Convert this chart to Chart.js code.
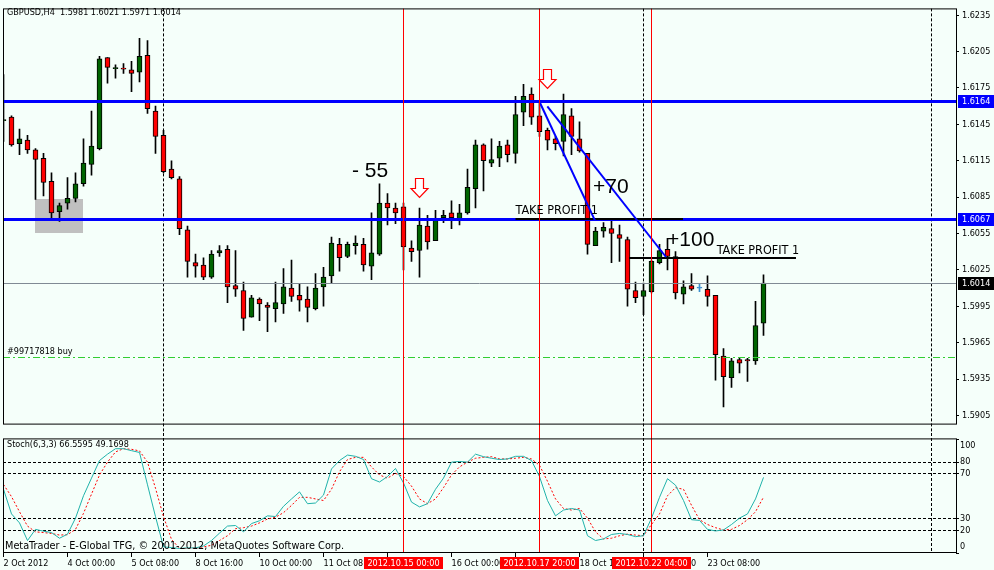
<!DOCTYPE html>
<html><head><meta charset="utf-8">
<script src="https://cdn.jsdelivr.net/npm/chart.js@4.4.1/dist/chart.umd.min.js"></script>
<style>
html,body{margin:0;padding:0;background:#F5FFFA;width:994px;height:570px;overflow:hidden}
#c1{position:absolute;left:0;top:0}
#c2{position:absolute;left:0;top:433px}
</style></head><body>
<canvas id="c1" width="994" height="433"></canvas>
<canvas id="c2" width="994" height="137"></canvas>
<script>
// ---------- DATA ----------
const candleOpen = [1.6148,1.6151,1.6129,1.6132,1.6124,1.6117,1.6098,1.6073,1.6080,1.6084,
 1.6096,1.6112,1.6125,1.6200,1.6191,1.6191,1.6190,1.6188,1.6202,1.6156,
 1.6136,1.6108,1.6100,1.6058,1.6031,1.6029,1.6019,1.6039,1.6042,1.6012,
 1.6008,1.5986,1.6001,1.5996,1.5993,1.5997,1.6010,1.6004,1.6001,1.5993,
 1.6011,1.6020,1.6046,1.6036,1.6045,1.6046,1.6028,1.6038,1.6080,1.6076,
 1.6077,1.6043,1.6041,1.6061,1.6049,1.6068,1.6072,1.6067,1.6072,1.6092,
 1.6128,1.6113,1.6117,1.6128,1.6121,1.6155,1.6170,1.6152,1.6140,1.6133,
 1.6131,1.6152,1.6133,1.6121,1.6045,1.6057,1.6059,1.6054,1.6050,1.6008,
 1.6003,1.6007,1.6031,1.6042,1.6036,1.6005,1.6012,1.6010,1.6009,1.6004,
 1.5954,1.5936,1.5951,1.5951,1.5950,1.5981];
const candleHigh = [1.6186,1.6152,1.6141,1.6136,1.6125,1.6121,1.6105,1.6080,1.6101,1.6105,
 1.6133,1.6156,1.6201,1.6200,1.6194,1.6195,1.6197,1.6216,1.6214,1.6160,
 1.6140,1.6115,1.6102,1.6061,1.6038,1.6035,1.6041,1.6045,1.6045,1.6041,
 1.6015,1.6004,1.6002,1.5998,1.6015,1.6026,1.6033,1.6013,1.6011,1.6022,
 1.6027,1.6052,1.6051,1.6048,1.6053,1.6051,1.6072,1.6096,1.6088,1.6080,
 1.6080,1.6049,1.6076,1.6070,1.6074,1.6074,1.6082,1.6079,1.6108,1.6132,
 1.6129,1.6133,1.6131,1.6132,1.6168,1.6178,1.6175,1.6164,1.6142,1.6135,
 1.6170,1.6158,1.6147,1.6121,1.6060,1.6064,1.6065,1.6062,1.6052,1.6015,
 1.6014,1.6033,1.6046,1.6051,1.6040,1.6016,1.6022,1.6013,1.6020,1.6004,
 1.5960,1.5952,1.5952,1.5952,1.5999,1.6021];
const candleLow = [1.6131,1.6127,1.6120,1.6121,1.6083,1.6086,1.6067,1.6065,1.6075,1.6081,
 1.6094,1.6103,1.6124,1.6179,1.6183,1.6187,1.6172,1.6180,1.6154,1.6121,
 1.6105,1.6100,1.6054,1.6019,1.6019,1.6017,1.6018,1.6036,1.5998,1.6003,
 1.5975,1.5986,1.5983,1.5974,1.5982,1.5989,1.5999,1.5991,1.5982,1.5992,
 1.5995,1.6014,1.6024,1.6035,1.6038,1.6024,1.6017,1.6037,1.6062,1.6063,
 1.6025,1.6032,1.6019,1.6042,1.6049,1.6064,1.6059,1.6062,1.6071,1.6076,
 1.6090,1.6110,1.6110,1.6114,1.6113,1.6144,1.6145,1.6135,1.6124,1.6124,
 1.6119,1.6120,1.6122,1.6038,1.6045,1.6052,1.6031,1.6032,1.5995,1.5998,
 1.5988,1.6006,1.6030,1.6025,1.6001,1.5997,1.6008,1.6007,1.5995,1.5934,
 1.5912,1.5928,1.5940,1.5933,1.5947,1.5971];
const candleClose = [1.6149,1.6128,1.6133,1.6124,1.6116,1.6097,1.6072,1.6078,1.6084,1.6096,
 1.6113,1.6127,1.6199,1.6192,1.61915,1.61905,1.6187,1.6201,1.6158,1.6135,
 1.6106,1.6101,1.6059,1.6032,1.6028,1.6019,1.6038,1.6041,1.6011,1.6009,
 1.5985,1.6002,1.5997,1.5994,1.5998,1.6011,1.6003,1.6000,1.5994,1.6010,
 1.6019,1.6047,1.6035,1.6046,1.6047,1.6029,1.6039,1.6080,1.6076,1.6072,
 1.6044,1.6040,1.6062,1.6048,1.6067,1.6070,1.6068,1.6072,1.6093,1.6128,
 1.6115,1.6116,1.6127,1.6120,1.6153,1.6168,1.6151,1.6139,1.6132,1.6129,
 1.6153,1.6135,1.6123,1.6046,1.6057,1.6060,1.6055,1.6051,1.6009,1.6002,
 1.6008,1.6032,1.6041,1.6036,1.6006,1.6011,1.6009,1.6010,1.6003,1.5955,
 1.5937,1.5950,1.5948,1.5950,1.5979,1.6014];
const stochMain = [56.1,34.4,26.5,11.0,20.8,19.2,18.0,13.0,16.6,30.7,50.4,65.9,81.4,87.0,91.8,91.8,90.1,88.5,60.0,32.0,
 5.4,4.8,4.0,4.5,4.5,6.2,11.0,17.5,23.7,24.2,18.6,25.9,28.4,32.7,32.1,41.1,47.6,53.8,43.4,44.0,
 51.0,74.0,81.4,86.2,85.1,82.3,65.4,62.5,67.3,74.4,61.7,44.8,40.6,43.4,56.1,65.9,80.0,80.6,80.0,87.0,
 84.8,83.4,82.3,82.8,85.1,85.1,81.4,67.3,46.2,32.7,37.8,39.2,37.8,15.2,11.0,12.4,16.3,17.2,16.3,14.4,
 15.2,30.7,49.0,65.4,59.7,46.2,29.3,28.7,20.8,19.4,20.3,25.1,30.7,34.4,47.6,66.5595];
const stochSignal = [60.3,49.6,36.3,23.7,18.6,18.0,17.2,15.8,16.1,20.8,34.9,51.8,68.7,80.0,89.0,91.8,91.3,89.9,80.0,57.0,
 32.1,12.0,4.0,4.0,4.5,5.4,6.8,11.0,15.2,21.4,22.3,23.7,26.5,29.9,31.5,35.5,41.9,49.0,49.0,47.6,
 46.2,56.1,71.5,82.3,84.2,84.2,75.8,68.7,65.9,70.1,67.3,58.9,47.6,43.4,47.6,57.5,68.7,75.8,80.0,83.4,
 84.2,84.8,82.8,82.8,83.4,84.2,82.8,77.2,63.1,47.6,39.2,37.8,39.2,30.7,18.6,12.4,13.0,15.2,16.6,15.8,
 15.2,25.1,34.4,50.4,57.5,56.1,42.0,29.3,25.1,22.3,20.3,20.8,24.2,29.3,36.3,49.1698];
const priceTicks = [1.5905,1.5935,1.5965,1.5995,1.6025,1.6055,1.6085,1.6115,1.6145,1.6175,1.6205,1.6235];
const stochTicks = [0,20,30,70,80,100];
const stochLevels = [20,30,70,80];
const timeTickIndex = [0,8,16,24,32,40,48,56,64,72,80,88];
const timeTickLabels = ['2 Oct 2012','4 Oct 00:00','5 Oct 08:00','8 Oct 16:00','10 Oct 00:00','11 Oct 08:00',
 '12 Oct 16:00','16 Oct 00:00','17 Oct 08:00','18 Oct 16:00','22 Oct 00:00','23 Oct 08:00'];
const markedIndex = [50,67,81];
const markedLabels = ['2012.10.15 00:00','2012.10.17 20:00','2012.10.22 04:00'];
const separatorIndex = [20,80,116.06];
const levelPrices = [1.6164,1.6067];
const bidPrice = 1.6014;
const orderPrice = 1.59526;
const headerText = 'GBPUSD,H4  1.5981 1.6021 1.5971 1.6014';
const stochTitle = 'Stoch(6,3,3) 66.5595 49.1698';
const copyrightText = 'MetaTrader - E-Global TFG, \u00A9 2001-2012, MetaQuotes Software Corp.';
const orderLabel = '#99717818 buy';
// annotation anchors (bar index, price)
const shadedBox = {i1:3.94, i2:9.94, p1:1.60838, p2:1.60558};
const tpLines = [{i1:64.0,i2:84.94,p:1.60672,li:64.0,lp:1.6071},{i1:78.2,i2:99.06,p:1.60344,li:89.15,lp:1.60382}];
const trendLines = [{i1:66.97,p1:1.6164,i2:73.94,p2:1.60656},{i1:67.98,p1:1.61598,i2:82.81,p2:1.60356}];
const bigTexts = [{t:'- 55',i:43.56,p:1.61014},{t:'+70',i:73.69,p:1.60886},{t:'+100',i:82.94,p:1.60446}];
const arrows = [{i:51.875,p:1.61006},{i:67.94,p:1.6191}];

// ---------- STYLE ----------
const FONT = "'DejaVu Sans Condensed','DejaVu Sans',sans-serif";
Chart.defaults.font.family = FONT;
Chart.defaults.font.size = 9;
Chart.defaults.color = '#000';
const BULL='#006400', BEAR='#FF0000', DOJI='#3A8FD0';
const X_MIN = -0.0625, X_MAX = X_MIN + 953/8;
const Y_MIN = 1.58974, Y_MAX = 1.62406;

const idx = candleOpen.map((_,i)=>i);
const isDoji = i => candleOpen[i] === candleClose[i];
const bodyColor = i => isDoji(i) ? DOJI : (candleClose[i] > candleOpen[i] ? BULL : BEAR);

function vline(ctx, x, y1, y2){ ctx.beginPath(); ctx.moveTo(x,y1); ctx.lineTo(x,y2); ctx.stroke(); }
function hline(ctx, x1, x2, y){ ctx.beginPath(); ctx.moveTo(x1,y); ctx.lineTo(x2,y); ctx.stroke(); }

const mainDecor = {
  id:'mainDecor',
  beforeDatasetsDraw(chart){
    const {ctx, chartArea:a, scales:{x,y}} = chart;
    ctx.save();
    ctx.beginPath(); ctx.rect(a.left, a.top, a.right-a.left, chart.height-a.top); ctx.clip();
    const bx1=x.getPixelForValue(shadedBox.i1), bx2=x.getPixelForValue(shadedBox.i2);
    const by1=y.getPixelForValue(shadedBox.p1), by2=y.getPixelForValue(shadedBox.p2);
    ctx.fillStyle='#C0C0C0';
    ctx.fillRect(Math.round(bx1), Math.round(by1), Math.round(bx2-bx1), Math.round(by2-by1));
    ctx.strokeStyle='#000'; ctx.lineWidth=1; ctx.setLineDash([3,2]);
    separatorIndex.forEach(i=>{ const px=Math.floor(x.getPixelForValue(i))+0.5; vline(ctx, px, a.top, chart.height); });
    ctx.restore();
  },
  afterDatasetsDraw(chart){
    const {ctx, chartArea:a, scales:{x,y}} = chart;
    const X=v=>x.getPixelForValue(v), Y=v=>y.getPixelForValue(v);
    ctx.save();
    ctx.beginPath(); ctx.rect(a.left, a.top, a.right-a.left, chart.height-a.top); ctx.clip();
    // order line
    ctx.strokeStyle='#32CD32'; ctx.lineWidth=1; ctx.setLineDash([7,3,2,3]);
    hline(ctx, a.left, a.right, Math.floor(Y(orderPrice))+0.5);
    ctx.setLineDash([]);
    // bid line
    ctx.strokeStyle='#808A94';
    hline(ctx, a.left, a.right, Math.floor(Y(bidPrice))+0.5);
    // blue horizontal levels
    ctx.strokeStyle='#0000FF'; ctx.lineWidth=3;
    levelPrices.forEach(p=>hline(ctx, a.left, a.right, Math.round(Y(p))+0.5));
    // TP lines
    ctx.strokeStyle='#000'; ctx.lineWidth=2;
    tpLines.forEach(t=>hline(ctx, X(t.i1), X(t.i2), Math.round(Y(t.p))));
    // trend lines
    ctx.strokeStyle='#0000FF'; ctx.lineWidth=2;
    trendLines.forEach(t=>{ ctx.beginPath(); ctx.moveTo(X(t.i1),Y(t.p1)); ctx.lineTo(X(t.i2),Y(t.p2)); ctx.stroke(); });
    // red verticals
    ctx.strokeStyle='#FF0000'; ctx.lineWidth=1;
    markedIndex.forEach(i=>vline(ctx, Math.floor(X(i))+0.5, a.top, chart.height));
    // TP texts
    ctx.fillStyle='#000'; ctx.font="12.5px "+FONT; ctx.textAlign='left'; ctx.textBaseline='alphabetic';
    tpLines.forEach(t=>ctx.fillText('TAKE PROFIT 1', X(t.li), Y(t.lp)));
    // big texts
    ctx.font="21px 'Liberation Sans', Arial, sans-serif";
    bigTexts.forEach(t=>ctx.fillText(t.t, X(t.i), Y(t.p)));
    // arrows
    arrows.forEach(ar=>{
      const cx=Math.round(X(ar.i))+0.5, t=Math.round(Y(ar.p))+0.5;
      ctx.beginPath();
      ctx.moveTo(cx-4,t); ctx.lineTo(cx+4,t); ctx.lineTo(cx+4,t+10); ctx.lineTo(cx+8.5,t+10);
      ctx.lineTo(cx,t+19); ctx.lineTo(cx-8.5,t+10); ctx.lineTo(cx-4,t+10); ctx.closePath();
      ctx.fillStyle='#FFFFFF'; ctx.fill(); ctx.strokeStyle='#FF0000'; ctx.lineWidth=1.2; ctx.stroke();
    });
    // order label
    ctx.fillStyle='#000'; ctx.font="9px "+FONT;
    ctx.fillText(orderLabel, a.left+4, Math.floor(Y(orderPrice))-3);
    ctx.restore();
    // header
    ctx.save();
    ctx.fillStyle='#000'; ctx.font="9px "+FONT; ctx.textBaseline='alphabetic';
    ctx.fillText(headerText, 7, 15);
    // frame
    ctx.strokeStyle='#000'; ctx.lineWidth=1;
    ctx.strokeRect(a.left+0.5, a.top+0.5, a.right-a.left, a.bottom-a.top-1);
    // right axis boxes
    const boxes = [{p:levelPrices[0],bg:'#0000FF'},{p:levelPrices[1],bg:'#0000FF'},{p:bidPrice,bg:'#000000'}];
    boxes.forEach(b=>{
      const cy=Math.round(Y(b.p))+0.5;
      ctx.fillStyle=b.bg; ctx.fillRect(958, Math.round(cy-6.5), 36, 13);
      ctx.fillStyle='#FFFFFF'; ctx.textBaseline='middle'; ctx.textAlign='left';
      ctx.fillText(b.p.toFixed(4), 962, cy+0.5);
    });
    ctx.restore();
  }
};

new Chart(document.getElementById('c1'), {
  type:'bar',
  data:{datasets:[
    {label:'body', data: idx.map(i=>({x:i, y:[candleOpen[i], candleClose[i]]})),
     backgroundColor: c=>bodyColor(c.dataIndex), borderColor: c=>isDoji(c.dataIndex)?DOJI:'#000',
     borderWidth:1, borderSkipped:false, barThickness:5, minBarLength:1, grouped:false, order:0},
    {label:'wick', data: idx.map(i=>({x:i, y:[candleLow[i], candleHigh[i]]})),
     backgroundColor: c=>isDoji(c.dataIndex)?DOJI:'#000', borderWidth:0, barThickness:1, grouped:false, order:1}
  ]},
  options:{
    responsive:false, animation:false, devicePixelRatio:1, events:[],
    layout:{padding:{left:3, top:3, right:0, bottom:1}},
    plugins:{legend:{display:false}, tooltip:{enabled:false}},
    scales:{
      x:{type:'linear', min:X_MIN, max:X_MAX, offset:false, bounds:'ticks', display:false},
      y:{type:'linear', position:'right', min:Y_MIN, max:Y_MAX,
         afterBuildTicks: s=>{ s.ticks = priceTicks.map(v=>({value:v})); },
         afterFit: s=>{ s.width = 38; },
         ticks:{callback: v=>Number(v).toFixed(4), padding:3, autoSkip:false, color:'#000', font:{size:9}},
         grid:{display:true, drawOnChartArea:false, drawTicks:true, tickLength:3, color:'#000', tickColor:'#000'},
         border:{display:false}}
    }
  },
  plugins:[mainDecor]
});

const stochDecor = {
  id:'stochDecor',
  beforeDatasetsDraw(chart){
    const {ctx, chartArea:a, scales:{x,y}} = chart;
    ctx.save();
    ctx.strokeStyle='#000'; ctx.lineWidth=1; ctx.setLineDash([3,2]);
    stochLevels.forEach(v=>hline(ctx, a.left, a.right, Math.floor(y.getPixelForValue(v))+0.5));
    separatorIndex.forEach(i=>vline(ctx, Math.floor(x.getPixelForValue(i))+0.5, 0, a.bottom));
    ctx.restore();
  },
  afterDatasetsDraw(chart){
    const {ctx, chartArea:a, scales:{x,y}} = chart;
    ctx.save();
    ctx.strokeStyle='#FF0000'; ctx.lineWidth=1;
    markedIndex.forEach(i=>vline(ctx, Math.floor(x.getPixelForValue(i))+0.5, 0, a.bottom));
    ctx.strokeStyle='#000';
    ctx.strokeRect(a.left+0.5, a.top-0.5, a.right-a.left, a.bottom-a.top);
    ctx.fillStyle='#000'; ctx.textAlign='left'; ctx.textBaseline='alphabetic';
    ctx.font="9px "+FONT;
    ctx.fillText(stochTitle, 7, 14);
    ctx.font="10.8px "+FONT;
    ctx.fillText(copyrightText, 5, 115.5);
    ctx.font="9px "+FONT; ctx.textBaseline='middle';
    ctx.fillText('100', a.right+4, y.getPixelForValue(100)+6);
    ctx.fillText('0', a.right+4, y.getPixelForValue(0)-6);
    // marked time boxes
    markedIndex.forEach((i,k)=>{
      const cx=Math.floor(x.getPixelForValue(i))+0.5;
      ctx.fillStyle='#FF0000'; ctx.fillRect(Math.round(cx-39.5), a.bottom+4, 79, 12);
      ctx.fillStyle='#FFFFFF'; ctx.textAlign='center';
      ctx.fillText(markedLabels[k], cx, a.bottom+10.5);
    });
    ctx.restore();
  }
};

new Chart(document.getElementById('c2'), {
  type:'line',
  data:{datasets:[
    {data: idx.map(i=>({x:i, y:stochMain[i]})), borderColor:'#20B2AA', borderWidth:1, pointRadius:0, tension:0, order:0},
    {data: idx.map(i=>({x:i, y:stochSignal[i]})), borderColor:'#FF0000', borderWidth:1, borderDash:[2,2], pointRadius:0, tension:0, order:1}
  ]},
  options:{
    responsive:false, animation:false, devicePixelRatio:1, events:[],
    layout:{padding:{left:3, top:1, right:0, bottom:0}},
    plugins:{legend:{display:false}, tooltip:{enabled:false}},
    scales:{
      x:{type:'linear', min:X_MIN, max:X_MAX,
         afterBuildTicks: s=>{ s.ticks = timeTickIndex.map(v=>({value:v})); },
         afterFit: s=>{ s.height = 17; },
         ticks:{callback:(v,k)=>timeTickLabels[k], align:'start', maxRotation:0, minRotation:0, autoSkip:false, padding:1, color:'#000', font:{size:9}},
         grid:{display:true, drawOnChartArea:false, drawTicks:true, tickLength:4, color:'#000'},
         border:{display:false}},
      y:{type:'linear', position:'right', min:0, max:100,
         afterBuildTicks: s=>{ s.ticks = stochTicks.map(v=>({value:v})); },
         afterFit: s=>{ s.width = 38; },
         ticks:{callback: v=>(v===0||v===100)?'':String(v), padding:1, autoSkip:false, color:'#000', font:{size:9}},
         grid:{display:true, drawOnChartArea:false, drawTicks:true, tickLength:3, color:'#000'},
         border:{display:false}}
    }
  },
  plugins:[stochDecor]
});
</script>
</body></html>
